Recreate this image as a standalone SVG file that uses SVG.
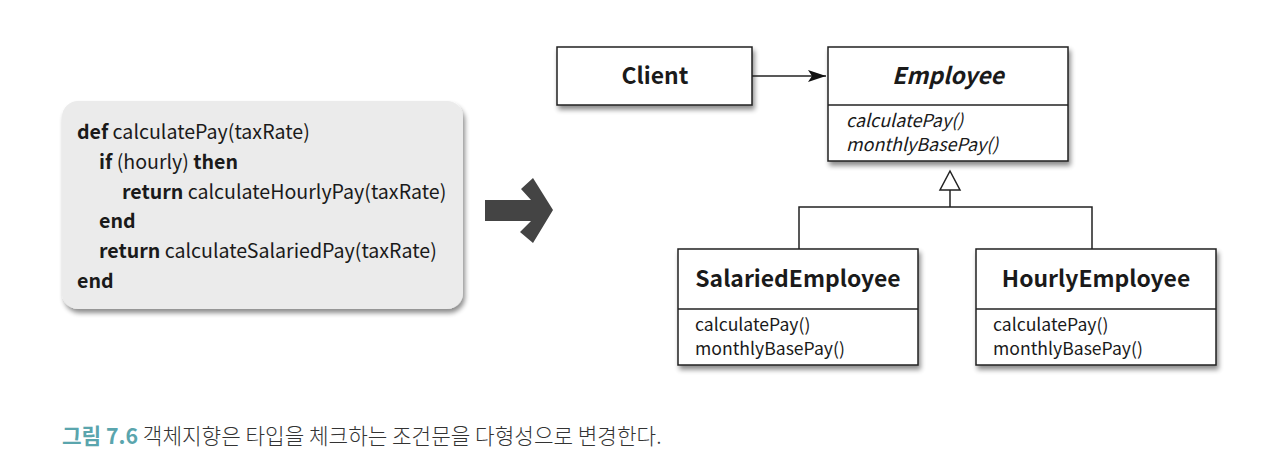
<svg xmlns="http://www.w3.org/2000/svg" width="1280" height="469" viewBox="0 0 1280 469">
<defs>
<filter id="sh" x="-10%" y="-10%" width="130%" height="140%">
<feGaussianBlur in="SourceAlpha" stdDeviation="2.5"/>
<feOffset dx="2" dy="4" result="b"/>
<feComponentTransfer><feFuncA type="linear" slope="0.45"/></feComponentTransfer>
<feMerge><feMergeNode/><feMergeNode in="SourceGraphic"/></feMerge>
</filter>
<marker id="ah" viewBox="0 0 18 12" refX="18" refY="6" markerWidth="18" markerHeight="12" markerUnits="userSpaceOnUse" orient="auto">
<path d="M0,0 L18,6 L0,12 L4,6 Z" fill="#111"/>
</marker>
<style>
.box{fill:#fff;stroke:#222;stroke-width:1.5}
.ln{stroke:#222;stroke-width:1.5;fill:none}
.code{font-family:"Noto Sans CJK KR","Noto Sans",sans-serif;font-size:19.6px;fill:#1a1a1a}
.b{font-weight:bold}
.title{font-family:"Noto Sans CJK KR","Noto Sans",sans-serif;font-size:22.9px;font-weight:bold;fill:#1a1a1a;text-anchor:middle}
.m{font-family:"Noto Sans CJK KR","Noto Sans",sans-serif;font-size:17.6px;fill:#1a1a1a}
.mi{font-size:17.9px;font-style:italic}
.cap{font-family:"Noto Sans CJK KR","Noto Sans",sans-serif;font-size:21.3px;fill:#333;font-weight:300}
</style>
</defs>
<rect width="1280" height="469" fill="#fff"/>

<g id="code">
<rect x="62" y="101" width="401" height="208" rx="16" fill="#ebebeb" filter="url(#sh)"/>
<text class="code" x="77" y="139"><tspan class="b">def</tspan> calculatePay(taxRate)</text>
<text class="code" x="99" y="169"><tspan class="b">if</tspan> (hourly) <tspan class="b">then</tspan></text>
<text class="code" x="122" y="199"><tspan class="b">return</tspan> calculateHourlyPay(taxRate)</text>
<text class="code" x="99" y="228"><tspan class="b">end</tspan></text>
<text class="code" x="99" y="258"><tspan class="b">return</tspan> calculateSalariedPay(taxRate)</text>
<text class="code" x="77" y="288"><tspan class="b">end</tspan></text>
</g>

<g id="bigarrow">
<polygon points="485,200 531,200 521,189 533,178 553,210 533,243 520,232 531,221 485,221" fill="#444"/>
</g>

<g id="client">
<rect class="box" x="557" y="47" width="195" height="58" filter="url(#sh)"/>
<text class="title" x="655" y="84">Client</text>
</g>

<g id="employee">
<rect class="box" x="828" y="47" width="240" height="114" filter="url(#sh)"/>
<line class="ln" x1="828" y1="105" x2="1068" y2="105"/>
<text class="title" x="948" y="84" font-style="italic">Employee</text>
<text class="m mi" x="846" y="127">calculatePay()</text>
<text class="m mi" x="846" y="151">monthlyBasePay()</text>
</g>

<g id="salaried">
<rect class="box" x="678" y="249" width="240" height="116" filter="url(#sh)"/>
<line class="ln" x1="678" y1="309" x2="918" y2="309"/>
<text class="title" x="798" y="287">SalariedEmployee</text>
<text class="m" x="695" y="331">calculatePay()</text>
<text class="m" x="695" y="355">monthlyBasePay()</text>
</g>

<g id="hourly">
<rect class="box" x="976" y="249" width="240" height="116" filter="url(#sh)"/>
<line class="ln" x1="976" y1="309" x2="1216" y2="309"/>
<text class="title" x="1096" y="287">HourlyEmployee</text>
<text class="m" x="993" y="331">calculatePay()</text>
<text class="m" x="993" y="355">monthlyBasePay()</text>
</g>

<g id="connectors">
<line class="ln" x1="752" y1="76" x2="826" y2="76" marker-end="url(#ah)"/>
<polygon points="950,171 940,190 960,190" fill="#fff" stroke="#222" stroke-width="1.5"/>
<line class="ln" x1="950" y1="190" x2="950" y2="207"/>
<polyline class="ln" points="799,249 799,207 1092,207 1092,249"/>
</g>

<g id="caption">
<text class="cap" x="62" y="444"><tspan fill="#5aa5ad" font-weight="bold">그림 7.6</tspan> 객체지향은 타입을 체크하는 조건문을 다형성으로 변경한다.</text>
</g>
</svg>
